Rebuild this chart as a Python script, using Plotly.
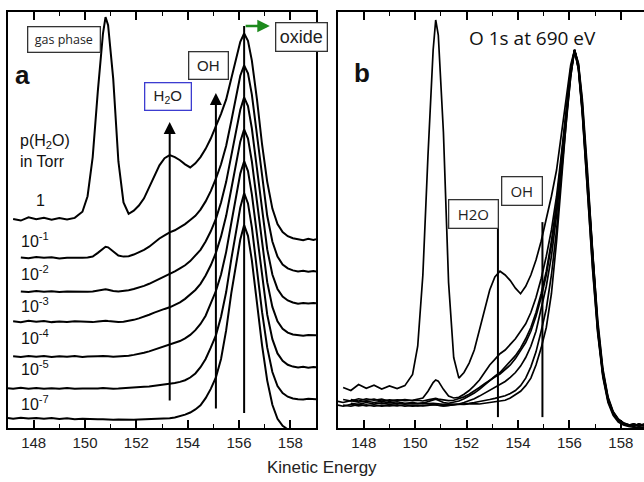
import plotly.graph_objects as go

# ---------------- data ----------------
energy = [147.0, 147.2, 147.5, 147.8, 148.1, 148.4, 148.7, 149.0, 149.3, 149.6,
          149.9, 150.1, 150.3, 150.5, 150.7, 150.8, 150.9, 151.1, 151.3, 151.5,
          151.7, 151.9, 152.1, 152.3, 152.5, 152.7, 152.9, 153.1, 153.3, 153.5,
          153.7, 153.9, 154.1, 154.3, 154.5, 154.7, 154.9, 155.1, 155.3, 155.5,
          155.7, 155.9, 156.05, 156.2, 156.35, 156.5, 156.7, 156.9, 157.1, 157.3,
          157.5, 157.7, 157.9, 158.1, 158.3, 158.5, 158.7, 158.9, 159.0]

pressure_labels = ["1", "10<sup>-1</sup>", "10<sup>-2</sup>", "10<sup>-3</sup>",
                   "10<sup>-4</sup>", "10<sup>-5</sup>", "10<sup>-7</sup>"]

i_p1 = [None, 0.100, 0.092, 0.108, 0.098, 0.106, 0.096, 0.104, 0.097, 0.105,
        0.135, 0.21, 0.40, 0.72, 1.00, 1.08, 1.04, 0.78, 0.38, 0.18,
        0.125, 0.14, 0.165, 0.20, 0.255, 0.31, 0.36, 0.395, 0.41, 0.40,
        0.385, 0.365, 0.35, 0.37, 0.40, 0.44, 0.49, 0.55, 0.61, 0.68,
        0.78, 0.88, 0.96, 1.00, 0.965, 0.87, 0.68, 0.46, 0.28, 0.15,
        0.075, 0.036, 0.016, 0.006, 0.002, -0.004, 0.003, -0.002, 0.001]

i_p1e1 = [None, None, 0.068, 0.064, 0.070, 0.066, 0.069, 0.063, 0.067, 0.065,
          0.066, 0.068, 0.072, 0.090, 0.113, 0.120, 0.117, 0.095, 0.077, 0.072,
          0.074, 0.082, 0.092, 0.105, 0.120, 0.140, 0.160, 0.175, 0.190, 0.200,
          0.215, 0.230, 0.250, 0.270, 0.300, 0.340, 0.390, 0.450, 0.520, 0.610,
          0.730, 0.860, 0.950, 1.000, 0.962, 0.860, 0.665, 0.450, 0.270, 0.145,
          0.072, 0.034, 0.015, 0.005, 0.0, 0.003, -0.002, 0.002, 0.0]

i_p1e2 = [None, None, 0.058, 0.055, 0.060, 0.056, 0.059, 0.055, 0.058, 0.056,
          0.057, 0.056, 0.058, 0.062, 0.067, 0.069, 0.066, 0.060, 0.058, 0.060,
          0.064, 0.070, 0.077, 0.085, 0.095, 0.107, 0.120, 0.130, 0.140, 0.155,
          0.170, 0.185, 0.205, 0.230, 0.260, 0.300, 0.350, 0.410, 0.490, 0.590,
          0.720, 0.850, 0.940, 1.000, 0.958, 0.850, 0.650, 0.440, 0.262, 0.140,
          0.070, 0.033, 0.014, 0.004, -0.002, 0.002, -0.001, 0.002, 0.0]

i_p1e3 = [None, 0.068, 0.064, 0.070, 0.066, 0.069, 0.064, 0.067, 0.065, 0.068,
          0.065, 0.066, 0.064, 0.067, 0.070, 0.071, 0.069, 0.066, 0.065, 0.066,
          0.070, 0.075, 0.082, 0.090, 0.100, 0.110, 0.120, 0.128, 0.136, 0.148,
          0.160, 0.177, 0.197, 0.220, 0.250, 0.290, 0.340, 0.400, 0.480, 0.580,
          0.710, 0.850, 0.940, 1.000, 0.955, 0.845, 0.645, 0.435, 0.258, 0.138,
          0.068, 0.032, 0.013, 0.004, 0.001, -0.002, 0.002, -0.001, 0.0]

i_p1e4 = [None, 0.053, 0.050, 0.055, 0.051, 0.054, 0.050, 0.053, 0.051, 0.054,
          0.050, 0.052, 0.051, 0.053, 0.054, 0.055, 0.053, 0.051, 0.052, 0.053,
          0.056, 0.060, 0.064, 0.070, 0.077, 0.085, 0.094, 0.102, 0.108, 0.116,
          0.127, 0.140, 0.157, 0.180, 0.210, 0.250, 0.310, 0.370, 0.450, 0.560,
          0.700, 0.840, 0.940, 1.000, 0.952, 0.840, 0.640, 0.430, 0.255, 0.136,
          0.067, 0.031, 0.012, 0.003, -0.001, 0.002, -0.002, 0.001, 0.0]

i_p1e5 = [0.053, 0.050, 0.055, 0.051, 0.054, 0.050, 0.053, 0.051, 0.054, 0.050,
          0.052, 0.051, 0.053, 0.052, 0.054, 0.053, 0.052, 0.051, 0.052, 0.053,
          0.055, 0.056, 0.058, 0.060, 0.062, 0.065, 0.068, 0.071, 0.074, 0.078,
          0.084, 0.092, 0.105, 0.125, 0.155, 0.195, 0.250, 0.310, 0.400, 0.520,
          0.680, 0.830, 0.930, 1.000, 0.950, 0.835, 0.632, 0.422, 0.250, 0.132,
          0.064, 0.030, 0.012, 0.003, 0.0, -0.002, 0.002, -0.001, 0.0]

i_p1e7 = [0.063, 0.060, 0.065, 0.061, 0.064, 0.060, 0.063, 0.059, 0.062, 0.058,
          0.060, 0.058, 0.059, 0.057, 0.058, 0.057, 0.056, 0.055, 0.056, 0.055,
          0.056, 0.055, 0.056, 0.057, 0.056, 0.058, 0.059, 0.060, 0.062, 0.066,
          0.072, 0.080, 0.090, 0.105, 0.125, 0.160, 0.205, 0.260, 0.350, 0.490,
          0.670, 0.830, 0.930, 1.000, 0.948, 0.830, 0.625, 0.415, 0.245, 0.128,
          0.060, 0.026, 0.008, 0.0, -0.004, -0.006, -0.005, -0.007, -0.006]

spectra = [i_p1, i_p1e1, i_p1e2, i_p1e3, i_p1e4, i_p1e5, i_p1e7]
for s in spectra:
    assert len(s) == len(energy)

# vertical offsets used to stack the spectra in panel a (layout choice)
stack_step = 0.155
x_ticks = [148, 150, 152, 154, 156, 158]

W, H = 644, 482


def px(xp, yp):
    return xp / W, 1 - yp / H


fig = go.Figure()

n = len(spectra)
for k, s in enumerate(spectra):
    off = stack_step * (n - 1 - k)
    fig.add_trace(go.Scatter(
        x=energy, y=[None if v is None else v + off for v in s],
        xaxis="x", yaxis="y", mode="lines",
        line=dict(color="black", width=2), hoverinfo="skip"))

for s in spectra:
    fig.add_trace(go.Scatter(
        x=energy, y=s, xaxis="x2", yaxis="y2", mode="lines",
        line=dict(color="black", width=1.7), hoverinfo="skip"))

tickfont = dict(family="Liberation Sans, Arial, sans-serif", size=15, color="#222")


def xaxis_style(domain, rng, anchor):
    return dict(domain=domain, range=rng, anchor=anchor,
                tickvals=x_ticks, ticktext=[str(t) for t in x_ticks],
                ticks="inside", ticklen=8, tickwidth=1.5, tickcolor="black",
                mirror="allticks", showline=True, linecolor="black", linewidth=1.6,
                minor=dict(tickvals=[147, 149, 151, 153, 155, 157, 159], ticks="inside",
                           ticklen=4, tickwidth=1.2, tickcolor="black"),
                showgrid=False, zeroline=False, tickfont=tickfont)


ydom = [1 - 428 / H, 1 - 12 / H]

fig.update_layout(
    width=W, height=H,
    margin=dict(l=0, r=0, t=0, b=0),
    paper_bgcolor="white", plot_bgcolor="white",
    showlegend=False,
    xaxis=xaxis_style([8 / W, 316 / W], [147, 159], "y"),
    yaxis=dict(domain=ydom, range=[0.015, 0.015 + 416 / 206], anchor="x",
               showticklabels=False, ticks="", showline=True, mirror=True,
               linecolor="black", linewidth=1.6, showgrid=False, zeroline=False),
    xaxis2=xaxis_style([338 / W, 1.0], [147, 158.9], "y2"),
    yaxis2=dict(domain=ydom, range=[-0.008, -0.008 + 416 / 375], anchor="x2",
                showticklabels=False, ticks="", showline=True, mirror=False,
                linecolor="black", linewidth=1.6, showgrid=False, zeroline=False),
)

ann = []
font_a = "Liberation Sans, Arial, sans-serif"
font_c = "Open Sans, Noto Sans, sans-serif"


def text_at(xp, yp, text, size, bold=False, xanchor="center", family=font_a, color="#111", **kw):
    x, y = px(xp, yp)
    d = dict(x=x, y=y, xref="paper", yref="paper", text=("<b>%s</b>" % text) if bold else text,
             showarrow=False, xanchor=xanchor, yanchor="middle",
             font=dict(family=family, size=size, color=color))
    d.update(kw)
    ann.append(d)


def box_at(xp0, yp0, xp1, yp1, text, size, border="#333", family=font_a):
    x, y = px((xp0 + xp1) / 2, (yp0 + yp1) / 2)
    ann.append(dict(x=x, y=y, xref="paper", yref="paper", text=text, showarrow=False,
                    xanchor="center", yanchor="middle",
                    width=xp1 - xp0 - 2, height=yp1 - yp0 - 2, borderpad=0,
                    bordercolor=border, borderwidth=1.3, bgcolor="white",
                    font=dict(family=family, size=size, color="#222")))


# panel a labels
text_at(22, 75, "a", 26, bold=True)
box_at(27, 26, 100, 52, "gas phase", 12.5, family=font_c)
box_at(189, 52, 229, 80, "OH", 15)
box_at(144, 83, 191, 111, "H<sub>2</sub>O", 15, border="#3c3cd0")
box_at(275, 23, 327, 52, "oxide", 18)
text_at(18, 151, "p(H<sub>2</sub>O)<br>in Torr", 16, xanchor="left", align="left")
label_y = [200, 240, 273, 305, 337, 368, 403]
for lab, yy in zip(pressure_labels, label_y):
    if lab == "1":
        text_at(40, yy, lab, 16)
    else:
        text_at(19, yy, lab, 16, xanchor="left")

# panel b labels
text_at(362, 73, "b", 26, bold=True)
text_at(532, 38, "O 1s at 690 eV", 19, family=font_c)
box_at(448, 199, 498, 228, "H2O", 15, family=font_c)
box_at(501, 177, 542, 206, "OH", 15, family=font_c)

# axis title
text_at(322, 467, "Kinetic Energy", 17, color="#222")

# arrows in panel a
for xe, y0, y1 in [(153.3, 0.141, 1.50), (155.1, 0.102, 1.641)]:
    ann.append(dict(x=xe, y=y1, ax=xe, ay=y0, xref="x", yref="y", axref="x", ayref="y",
                    showarrow=True, arrowhead=2, arrowsize=1.2, arrowwidth=2,
                    arrowcolor="black", text=""))
ann.append(dict(x=157.2, y=1.966, ax=156.2, ay=1.966, xref="x", yref="y", axref="x", ayref="y",
                showarrow=True, arrowhead=2, arrowsize=1, arrowwidth=2.5,
                arrowcolor="#1d8a1d", text=""))

fig.update_layout(annotations=ann)

shapes = [
    dict(type="line", xref="x", yref="y", x0=156.2, x1=156.2, y0=0.088, y1=1.966,
         line=dict(color="black", width=2)),
    dict(type="line", xref="x2", yref="y2", x0=153.22, x1=153.22, y0=0.021, y1=0.525,
         line=dict(color="black", width=2)),
    dict(type="line", xref="x2", yref="y2", x0=154.95, x1=154.95, y0=0.021, y1=0.541,
         line=dict(color="black", width=2)),
]
fig.update_layout(shapes=shapes)

fig.write_html("out.html",
               config={"displayModeBar": False},
               post_script="document.body.style.margin='0';document.body.style.padding='0';"
                           "document.documentElement.style.overflow='hidden';")
